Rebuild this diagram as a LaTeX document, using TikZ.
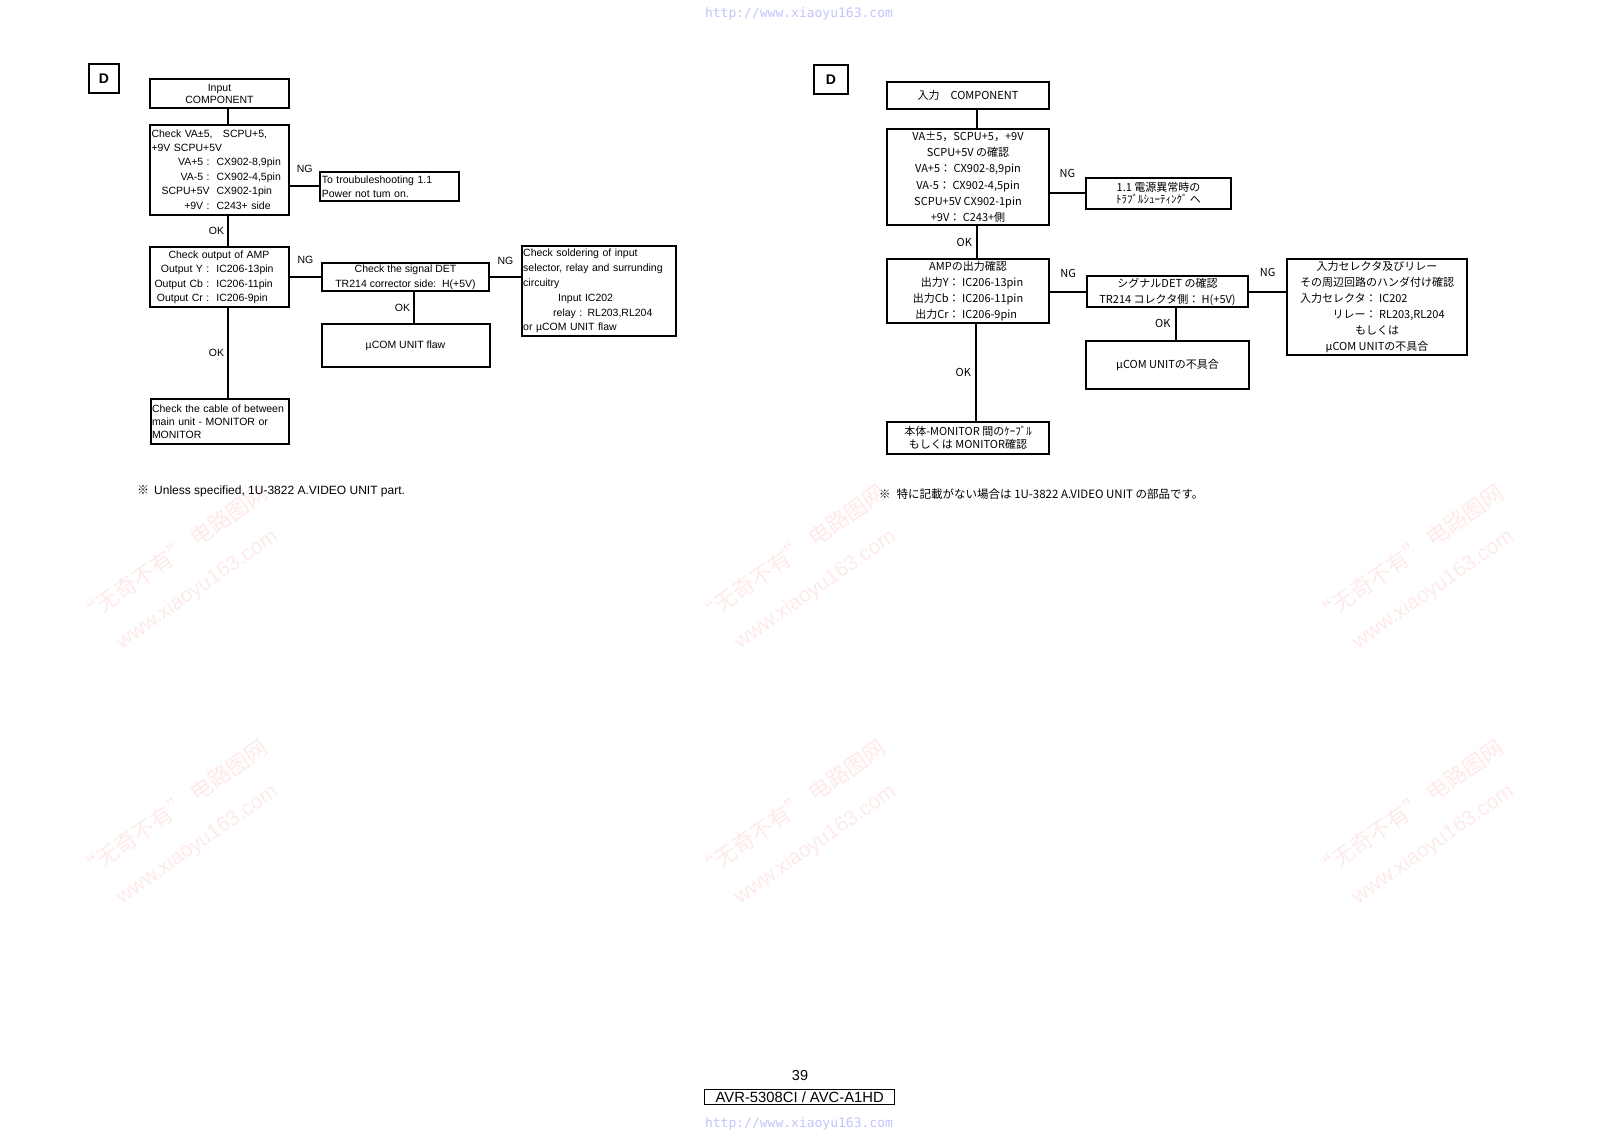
\documentclass[tikz,border=0pt]{standalone}
\usepackage{fontspec}
\setmainfont{Liberation Sans}
\newfontfamily\jpfont{Noto Sans CJK JP}
\newfontfamily\cnfont{Noto Sans CJK SC}
\newfontfamily\urlfont{DejaVu Sans Mono}
\definecolor{urlblue}{RGB}{196,196,255}
\definecolor{markpink}{RGB}{255,234,234}

\begin{document}
\begin{tikzpicture}[x=1pt,y=-1pt,
  box/.style={draw,line width=2pt,inner sep=1.5pt},
  en/.style={font=\fontsize{10.5}{14.4}\selectfont},
  jp/.style={font=\jpfont\fontsize{11}{16.2}\selectfont},
  wire/.style={line width=2pt},
  yn/.style={inner sep=0pt},
  wmark/.style={text=markpink,rotate=35,align=center,font=\fontsize{21}{40}\selectfont}]
  \useasboundingbox[fill=white] (0,0) rectangle (1600,1132);

  %watermarks
  \foreach \wx in {185,803,1421}
    \foreach \wy in {572,827}
      \node[wmark] at (\wx,\wy) {{\cnfont\fontsize{22}{40}\selectfont “无奇不有” 电路图网}\\www.xiaoyu163.com};

  %left
  \node[box,minimum width=30pt,minimum height=29pt,font=\bfseries\fontsize{14}{16}\selectfont] (dl) at (104,78.5) {D};
  \node[box,en,font=\fontsize{10.5}{12.5}\selectfont,align=center,minimum width=139pt,minimum height=29pt] (inl) at (219.5,93.8) {Input\\COMPONENT};
  \node[box,en,align=left,text width=136pt,minimum width=139pt,minimum height=89.7pt] (val) at (219.5,170.2) {%
    \begin{tabular}{@{\hspace{10pt}}r@{\ \ }l@{}}
      \multicolumn{2}{@{}l@{}}{Check VA±5,\ \ \ SCPU+5,}\\
      \multicolumn{2}{@{}l@{}}{+9V SCPU+5V}\\
      VA+5 : & CX902-8,9pin\\
      VA-5 : & CX902-4,5pin\\
      SCPU+5V & CX902-1pin\\
      +9V : & C243+ side
    \end{tabular}};
  \node[box,en,font=\fontsize{10.5}{14}\selectfont,align=left,text width=135.7pt,minimum width=138.7pt,minimum height=28.7pt] (tsl) at (389.7,186.3) {To troubuleshooting 1.1\\Power not tum on.};
  \node[box,en,align=left,text width=136pt,minimum width=139pt,minimum height=60pt] (ampl) at (219.5,277) {%
    \begin{tabular}{@{\hspace{3pt}}r@{\ \ }l@{}}
      \multicolumn{2}{@{\hspace{17pt}}l@{}}{Check output of AMP}\\
      Output Y : & IC206-13pin\\
      Output Cb : & IC206-11pin\\
      Output Cr : & IC206-9pin
    \end{tabular}};
  \node[box,en,font=\fontsize{10.5}{15}\selectfont,align=center,minimum width=167.3pt,minimum height=27pt] (sigl) at (405.5,277.2) {Check the signal DET\\TR214 corrector side:\ \ H(+5V)};
  \node[box,en,font=\fontsize{10.5}{14.8}\selectfont,align=left,text width=151pt,minimum width=154pt,minimum height=90.3pt] (soll) at (598.7,291.2) {Check soldering of input\\selector, relay and surrunding\\circuitry\\\hspace*{35pt}Input IC202\\\hspace*{30pt}relay : RL203,RL204\\or µCOM UNIT flaw};
  \node[box,en,minimum width=168pt,minimum height=43.6pt] (ucl) at (405.5,345.5) {µCOM UNIT flaw};
  \node[box,en,font=\fontsize{10.5}{13.3}\selectfont,align=left,text width=135pt,minimum width=138pt,minimum height=44.7pt] (cabl) at (219.5,421.7) {Check the cable of between\\main unit - MONITOR or\\MONITOR};

  \draw[wire] ([xshift=8pt]inl.south) -- ([xshift=8pt]val.north);
  \draw[wire] (val.east |- tsl.west) -- (tsl.west) node[yn,en,midway,above=13pt] {NG};
  \draw[wire] ([xshift=8pt]val.south) -- ([xshift=8pt]ampl.north) node[yn,en,midway,left=2.5pt] {OK};
  \draw[wire] (ampl.east |- sigl.west) -- (sigl.west) node[yn,en,midway,above=13pt] {NG};
  \draw[wire] (sigl.east) -- (sigl.east -| soll.west) node[yn,en,midway,above=12pt] {NG};
  \draw[wire] ([xshift=8pt]sigl.south) -- ([xshift=8pt]ucl.north) node[yn,en,midway,left=2.5pt] {OK};
  \draw[wire] ([xshift=8pt]ampl.south) -- ([xshift=8pt]cabl.north) node[yn,en,midway,left=2.5pt] {OK};

  \node[anchor=west,inner sep=0pt,font=\fontsize{12}{14}\selectfont] (notel) at (137,491) {{\jpfont ※}\hspace{5pt}Unless specified, 1U-3822 A.VIDEO UNIT part.};

  %right
  \node[box,minimum width=34.6pt,minimum height=29pt,font=\bfseries\fontsize{14}{16}\selectfont] (dr) at (831,79.5) {D};
  \node[box,jp,minimum width=162pt,minimum height=27.3pt] (inr) at (968,95.3) {入力　COMPONENT};
  \node[box,jp,align=center,minimum width=162pt,minimum height=95.4pt] (var) at (968,177) {VA±5，SCPU+5，+9V\\SCPU+5V の確認\\VA+5：\ CX902-8,9pin\\VA-5：\ CX902-4,5pin\\SCPU+5V CX902-1pin\\+9V：\ C243+側};
  \node[box,jp,font=\jpfont\fontsize{11}{12.5}\selectfont,align=center,minimum width=145pt,minimum height=31.3pt] (tsr) at (1158.5,193.3) {1.1 電源異常時の\\ﾄﾗﾌﾞﾙｼｭｰﾃｨﾝｸﾞ へ};
  \node[box,jp,font=\jpfont\fontsize{11}{15.8}\selectfont,inner sep=0pt,minimum width=162.7pt,minimum height=64pt] (ampr) at (968,291.3) {%
    \begin{tabular}{@{}r@{\ }l@{}}
      \multicolumn{2}{@{}c@{}}{AMPの出力確認}\\
      出力Y： & IC206-13pin\\
      出力Cb： & IC206-11pin\\
      出力Cr： & IC206-9pin
    \end{tabular}};
  \node[box,jp,font=\jpfont\fontsize{11}{16}\selectfont,align=center,minimum width=161.3pt,minimum height=30pt] (sigr) at (1167.5,291.7) {シグナルDET の確認\\TR214 コレクタ側：\ H(+5V)};
  \node[box,jp,font=\jpfont\fontsize{11}{15.9}\selectfont,inner sep=0pt,minimum width=180pt,minimum height=95.7pt] (solr) at (1377,307.2) {%
    \begin{tabular}{@{}r@{\ }l@{}}
      \multicolumn{2}{@{}c@{}}{入力セレクタ及びリレー}\\
      \multicolumn{2}{@{}c@{}}{その周辺回路のハンダ付け確認}\\
      入力セレクタ： & IC202\\
      リレー： & RL203,RL204\\
      \multicolumn{2}{@{}c@{}}{もしくは}\\
      \multicolumn{2}{@{}c@{}}{μCOM UNITの不具合}
    \end{tabular}};
  \node[box,jp,minimum width=163pt,minimum height=48pt] (ucr) at (1167.5,365) {μCOM UNITの不具合};
  \node[box,jp,font=\jpfont\fontsize{11}{13.3}\selectfont,align=center,minimum width=162pt,minimum height=32pt] (cabr) at (968,438) {本体-MONITOR 間のｹｰﾌﾞﾙ\\もしくは MONITOR確認};

  \draw[wire] ([xshift=9pt]inr.south) -- ([xshift=9pt]var.north);
  \draw[wire] (var.east |- tsr.west) -- (tsr.west) node[yn,jp,midway,above=15pt] {NG};
  \draw[wire] ([xshift=9pt]var.south) -- ([xshift=9pt]ampr.north) node[yn,jp,midway,left=4pt] {OK};
  \draw[wire] (ampr.east |- sigr.west) -- (sigr.west) node[yn,jp,midway,above=13pt] {NG};
  \draw[wire] (sigr.east) -- (sigr.east -| solr.west) node[yn,jp,midway,above=14.5pt] {NG};
  \draw[wire] ([xshift=8pt]sigr.south) -- ([xshift=8pt]ucr.north) node[yn,jp,midway,left=4pt] {OK};
  \draw[wire] ([xshift=8pt]ampr.south) -- ([xshift=8pt]cabr.north) node[yn,jp,midway,left=4pt] {OK};

  \node[anchor=west,inner sep=0pt,jp,font=\jpfont\fontsize{11.5}{14}\selectfont] (noter) at (879,494) {※\hspace{6pt}特に記載がない場合は 1U-3822 A.VIDEO UNIT の部品です。};

  %page
  \node[font=\urlfont\fontsize{13}{15}\selectfont,text=urlblue] (urltop) at (799,14) {http://www.xiaoyu163.com};
  \node[font=\fontsize{14.5}{16}\selectfont] (pageno) at (800,1075) {39};
  \node[draw,line width=0.8pt,inner sep=0pt,minimum width=190pt,minimum height=14.5pt,font=\fontsize{14.8}{16}\selectfont] (model) at (799.7,1096.7) {AVR-5308CI / AVC-A1HD};
  \node[font=\urlfont\fontsize{13}{15}\selectfont,text=urlblue] (urlbot) at (799,1124) {http://www.xiaoyu163.com};
\end{tikzpicture}
\end{document}
